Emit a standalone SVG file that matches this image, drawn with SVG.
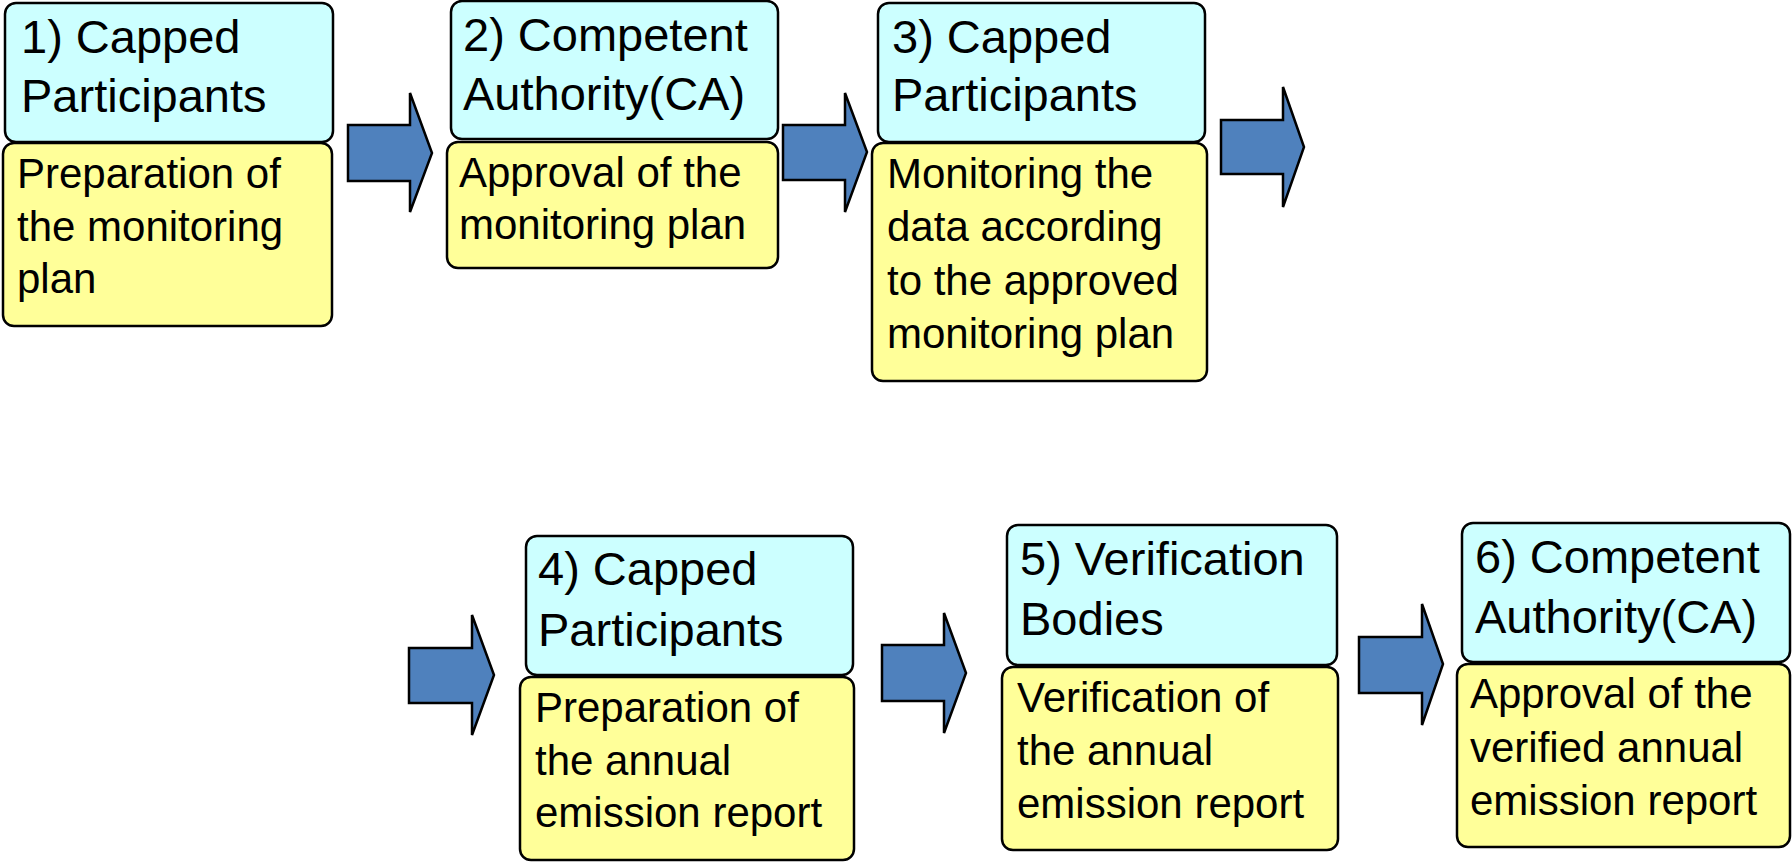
<svg xmlns="http://www.w3.org/2000/svg" width="1792" height="862" viewBox="0 0 1792 862">
<style>
.hd{fill:#CCFFFF;stroke:#000;stroke-width:2.5}
.bd{fill:#FFFF99;stroke:#000;stroke-width:2.5}
.t{font-family:"Liberation Sans",Arial,sans-serif;font-size:47px;fill:#000}
.b{font-family:"Liberation Sans",Arial,sans-serif;font-size:42px;fill:#000}
.ar{fill:#4F81BD;stroke:#000;stroke-width:2.5;stroke-linejoin:miter}
</style>
<rect width="1792" height="862" fill="#fff"/>
<g id="connectors">
<polygon class="ar" points="348,125 410,125 410,93 432,153 410,212 410,181 348,181"/>
<polygon class="ar" points="783,125 845,125 845,93 867,152 845,212 845,180 783,180"/>
<polygon class="ar" points="1221,120 1283,120 1283,87 1304,147 1283,207 1283,174 1221,174"/>
<polygon class="ar" points="409,648 472,648 472,615 494,675 472,735 472,703 409,703"/>
<polygon class="ar" points="882,645 944,645 944,613 966,673 944,733 944,701 882,701"/>
<polygon class="ar" points="1359,637 1422,637 1422,604 1443,664 1422,725 1422,693 1359,693"/>
</g>
<g id="node1">
<rect class="hd" x="5" y="3" width="328" height="139" rx="11"/>
<rect class="bd" x="3" y="143" width="329" height="183" rx="11"/>
<text class="t" x="21" y="53">1) Capped</text>
<text class="t" x="21" y="112">Participants</text>
<text class="b" x="17" y="188">Preparation of</text>
<text class="b" x="17" y="241">the monitoring</text>
<text class="b" x="17" y="293">plan</text>
</g>
<g id="node2">
<rect class="hd" x="451" y="1" width="327" height="138" rx="11"/>
<rect class="bd" x="447" y="142" width="331" height="126" rx="11"/>
<text class="t" x="463" y="51">2) Competent</text>
<text class="t" x="463" y="110">Authority(CA)</text>
<text class="b" x="459" y="187">Approval of the</text>
<text class="b" x="459" y="239">monitoring plan</text>
</g>
<g id="node3">
<rect class="hd" x="878" y="3" width="327" height="139" rx="11"/>
<rect class="bd" x="872" y="143" width="335" height="238" rx="11"/>
<text class="t" x="892" y="53">3) Capped</text>
<text class="t" x="892" y="111">Participants</text>
<text class="b" x="887" y="188">Monitoring the</text>
<text class="b" x="887" y="241">data according</text>
<text class="b" x="887" y="295">to the approved</text>
<text class="b" x="887" y="348">monitoring plan</text>
</g>
<g id="node4">
<rect class="hd" x="526" y="536" width="327" height="139" rx="11"/>
<rect class="bd" x="520" y="677" width="334" height="183" rx="11"/>
<text class="t" x="538" y="585">4) Capped</text>
<text class="t" x="538" y="646">Participants</text>
<text class="b" x="535" y="722">Preparation of</text>
<text class="b" x="535" y="775">the annual</text>
<text class="b" x="535" y="827">emission report</text>
</g>
<g id="node5">
<rect class="hd" x="1007" y="525" width="330" height="140" rx="11"/>
<rect class="bd" x="1002" y="667" width="336" height="183" rx="11"/>
<text class="t" x="1020" y="575">5) Verification</text>
<text class="t" x="1020" y="635">Bodies</text>
<text class="b" x="1017" y="712">Verification of</text>
<text class="b" x="1017" y="765">the annual</text>
<text class="b" x="1017" y="818">emission report</text>
</g>
<g id="node6">
<rect class="hd" x="1462" y="523" width="328" height="139" rx="11"/>
<rect class="bd" x="1457" y="664" width="333" height="183" rx="11"/>
<text class="t" x="1475" y="573">6) Competent</text>
<text class="t" x="1475" y="633">Authority(CA)</text>
<text class="b" x="1470" y="708">Approval of the</text>
<text class="b" x="1470" y="762">verified annual</text>
<text class="b" x="1470" y="815">emission report</text>
</g>
</svg>
